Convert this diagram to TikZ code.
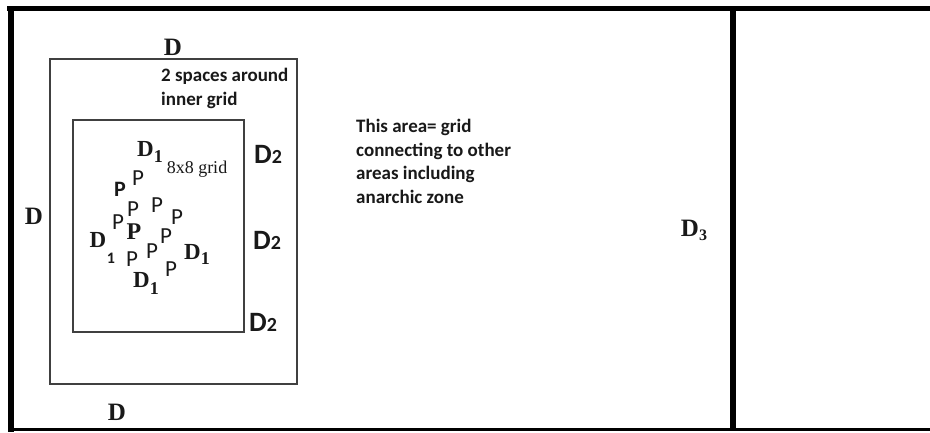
\documentclass[tikz,border=0pt]{standalone}
\usepackage{fontspec}
\setmainfont{Carlito}
\newfontfamily\serifD{Liberation Serif}
\begin{document}
\begin{tikzpicture}[x=1pt,y=-1pt,
  lbl/.style={inner sep=0pt,anchor=center,text=black!90},
  bigD/.style={lbl,font=\serifD\bfseries\fontsize{25}{25}\selectfont},
  dtwo/.style={lbl,font=\bfseries\fontsize{28}{28}\selectfont},
  pp/.style={lbl,font=\fontsize{23}{23}\selectfont},
  note/.style={inner sep=0pt,anchor=north west,align=left,text=black!90,font=\bfseries\fontsize{19}{23.5}\selectfont},
  box/.style={draw=black!75,line width=1.4pt},
  frame/.style={draw=black,line cap=butt}]
\useasboundingbox (0,0) rectangle (930,432);
\fill[white] (0,0) rectangle (930,432);
% frame
\draw[frame,line width=5pt] (7,8.5) -- (930,8.5);
\draw[frame,line width=6pt] (11,6) -- (11,432);
\draw[frame,line width=3.5pt] (8,429.5) -- (930,429.5);
\draw[frame,line width=6pt] (733,8) -- (733,431);
% boxes
\draw[box] (50,59) rectangle (297,384);
\draw[box] (73,120) rectangle (244,332);
% D labels
\node[bigD] (dtop) at (173,47) {D};
\node[bigD] (dleft) at (34,216) {D};
\node[bigD] (dbot) at (117,412) {D};
\node[bigD] (dthree) at (694,230) {D\raisebox{-4pt}{\fontsize{16}{16}\selectfont 3}};
% D2 labels
\node[dtwo] (dtwoa) at (268,154) {D{\fontsize{20}{20}\selectfont 2}};
\node[dtwo] (dtwob) at (267,240) {D{\fontsize{20}{20}\selectfont 2}};
\node[dtwo] (dtwoc) at (263,322) {D{\fontsize{20}{20}\selectfont 2}};
% notes
\node[note] (spaces) at (161,68) {2 spaces around\\inner grid};
\node[note] (area) at (356,119) {This area= grid\\connecting to other\\areas including\\anarchic zone};
% inner grid labels
\node[bigD,font=\serifD\bfseries\fontsize{23}{23}\selectfont] (done) at (150,152) {D\raisebox{-6pt}{\fontsize{18}{18}\selectfont 1}};
\node[lbl,font=\serifD\fontsize{18}{18}\selectfont] (grid) at (197,169) {8x8 grid};
\node[pp,font=\bfseries\fontsize{22}{22}\selectfont] (p1) at (120,189) {P};
\node[pp] (p2) at (138,178) {P};
\node[pp] (p3) at (133,209) {P};
\node[pp] (p4) at (157,205) {P};
\node[pp] (p5) at (177,217) {P};
\node[pp] (p6) at (118,222) {P};
\node[lbl,font=\serifD\bfseries\fontsize{24}{24}\selectfont] (p7) at (134,232) {P};
\node[pp] (p8) at (166,236) {P};
\node[pp] (p9) at (152,251) {P};
\node[pp] (p10) at (132,259) {P};
\node[pp] (p11) at (171,269) {P};
\node[bigD,font=\serifD\bfseries\fontsize{23}{23}\selectfont] (dl) at (98,240) {D};
\node[lbl,font=\bfseries\fontsize{16}{16}\selectfont] (dlone) at (111,258) {1};
\node[bigD,font=\serifD\bfseries\fontsize{23}{23}\selectfont] (dr) at (197,254) {D\raisebox{-5pt}{\fontsize{18}{18}\selectfont 1}};
\node[bigD,font=\serifD\bfseries\fontsize{23}{23}\selectfont] (dbt) at (146,283) {D\raisebox{-7pt}{\fontsize{18}{18}\selectfont 1}};
\end{tikzpicture}
\end{document}
